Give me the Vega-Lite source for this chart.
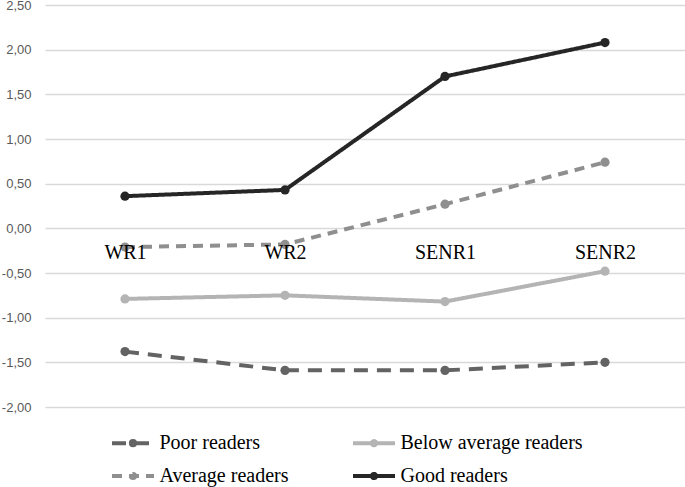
{
  "$schema": "https://vega.github.io/schema/vega-lite/v6.json",
  "width": 640,
  "height": 402,
  "autosize": "none",
  "padding": {"left": 45, "top": 5, "right": 0, "bottom": 80},
  "background": "white",
  "config": {"view": {"stroke": null}},
  "data": {
    "values": [
      {"group": "Poor readers", "test": "WR1", "score": -1.38},
      {"group": "Poor readers", "test": "WR2", "score": -1.59},
      {"group": "Poor readers", "test": "SENR1", "score": -1.59},
      {"group": "Poor readers", "test": "SENR2", "score": -1.5},
      {"group": "Below average readers", "test": "WR1", "score": -0.79},
      {"group": "Below average readers", "test": "WR2", "score": -0.75},
      {"group": "Below average readers", "test": "SENR1", "score": -0.82},
      {"group": "Below average readers", "test": "SENR2", "score": -0.48},
      {"group": "Average readers", "test": "WR1", "score": -0.21},
      {"group": "Average readers", "test": "WR2", "score": -0.18},
      {"group": "Average readers", "test": "SENR1", "score": 0.27},
      {"group": "Average readers", "test": "SENR2", "score": 0.74},
      {"group": "Good readers", "test": "WR1", "score": 0.36},
      {"group": "Good readers", "test": "WR2", "score": 0.43},
      {"group": "Good readers", "test": "SENR1", "score": 1.7},
      {"group": "Good readers", "test": "SENR2", "score": 2.08}
    ]
  },
  "mark": {"type": "line", "strokeWidth": 4, "point": {"filled": true, "size": 85, "opacity": 1}},
  "encoding": {
    "x": {
      "field": "test",
      "type": "nominal",
      "sort": ["WR1", "WR2", "SENR1", "SENR2"],
      "scale": {"type": "point", "padding": 0.5},
      "axis": {
        "orient": "bottom",
        "offset": -178.7,
        "title": null,
        "labelAngle": 0,
        "labelFont": "Liberation Serif",
        "labelFontSize": 20,
        "labelColor": "#000000",
        "labelPadding": 14,
        "labelBaseline": "top",
        "ticks": false,
        "domain": false,
        "grid": false,
        "zindex": 1
      }
    },
    "y": {
      "field": "score",
      "type": "quantitative",
      "scale": {"domain": [-2, 2.5], "nice": false, "zero": false},
      "axis": {
        "title": null,
        "values": [-2, -1.5, -1, -0.5, 0, 0.5, 1, 1.5, 2, 2.5],
        "labelExpr": "replace(replace(format(datum.value, '.2f'), '.', ','), '\u2212', '-')",
        "labelFont": "Liberation Sans",
        "labelFontSize": 13,
        "labelColor": "#595959",
        "labelPadding": 14,
        "ticks": false,
        "domain": false,
        "grid": true,
        "gridColor": "#d9d9d9",
        "gridWidth": 1.3
      }
    },
    "color": {
      "field": "group",
      "type": "nominal",
      "scale": {
        "domain": ["Poor readers", "Below average readers", "Average readers", "Good readers"],
        "range": ["#636363", "#b4b4b4", "#8f8f8f", "#262626"]
      },
      "legend": {
        "title": null,
        "orient": "none",
        "direction": "horizontal",
        "legendX": 75.5,
        "legendY": 425.5,
        "columns": 2,
        "padding": 0,
        "columnPadding": 56,
        "rowPadding": 10,
        "labelFont": "Liberation Serif",
        "labelFontSize": 20,
        "labelColor": "#000000",
        "labelOffset": 14,
        "symbolType": "M-2,0H2M-0.2,0A0.2,0.2,0,1,0,0.2,0A0.2,0.2,0,1,0,-0.2,0Z",
        "symbolSize": 441,
        "symbolStrokeWidth": 4,
        "labelLimit": 400,
        "encode": {"symbols": {"update": {"fill": {"scale": "color", "field": "value"}, "fillOpacity": {"value": 1}}}}
      }
    },
    "strokeDash": {
      "field": "group",
      "type": "nominal",
      "scale": {
        "domain": ["Poor readers", "Below average readers", "Average readers", "Good readers"],
        "range": [[14, 9], [1, 0], [10, 7], [1, 0]]
      },
      "legend": {
        "title": null,
        "orient": "none",
        "direction": "horizontal",
        "legendX": 75.5,
        "legendY": 425.5,
        "columns": 2,
        "padding": 0,
        "columnPadding": 56,
        "rowPadding": 10,
        "labelFont": "Liberation Serif",
        "labelFontSize": 20,
        "labelColor": "#000000",
        "labelOffset": 14,
        "symbolType": "M-2,0H2M-0.2,0A0.2,0.2,0,1,0,0.2,0A0.2,0.2,0,1,0,-0.2,0Z",
        "symbolSize": 441,
        "symbolStrokeWidth": 4,
        "labelLimit": 400,
        "encode": {"symbols": {"update": {"fill": {"scale": "color", "field": "value"}, "fillOpacity": {"value": 1}}}}
      }
    }
  }
}
